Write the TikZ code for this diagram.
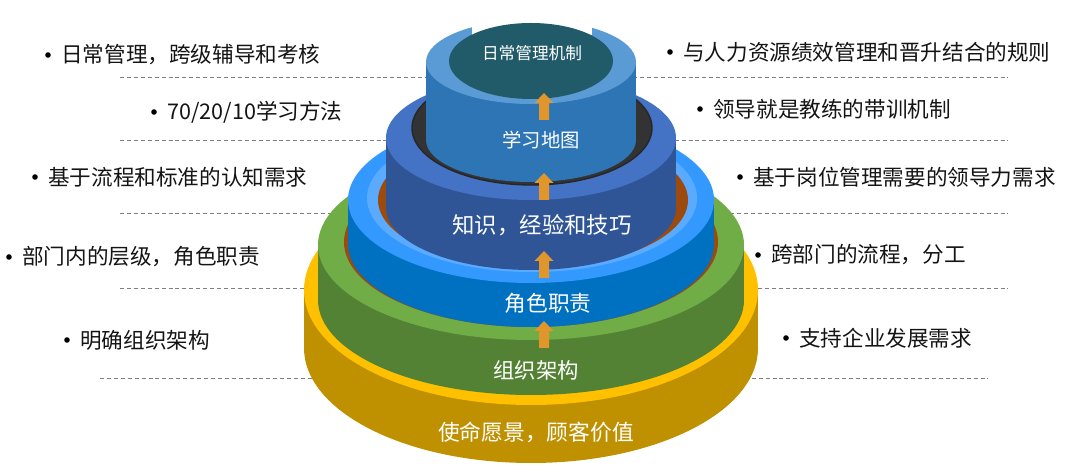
\documentclass[tikz,border=0pt]{standalone}
\usepackage{fontspec}
\setmainfont{Noto Sans CJK SC}
\usepackage{xcolor}
\usepackage{tikz}
\usetikzlibrary{calc}
\definecolor{goldRing}{HTML}{FFC000}
\definecolor{goldSide}{HTML}{BF9000}
\definecolor{greenRing}{HTML}{70AD47}
\definecolor{greenSide}{HTML}{548235}
\definecolor{skyRing}{HTML}{3399FF}
\definecolor{skyBand}{HTML}{5AABFF}
\definecolor{skySide}{HTML}{0070C0}
\definecolor{navyRing}{HTML}{4472C4}
\definecolor{navySide}{HTML}{2F5597}
\definecolor{topRing}{HTML}{5B9BD5}
\definecolor{topSide}{HTML}{2E75B6}
\definecolor{topFace}{HTML}{215A68}
\definecolor{rustHole}{HTML}{9C4A0E}
\definecolor{darkHole}{HTML}{333333}
\definecolor{arrowOrange}{HTML}{E0962B}
\definecolor{sepGray}{HTML}{7F7F7F}
\def\cx{531}
\newcommand{\Layer}[6]{
	\def\Ly{#1}
	\def\La{#2}
	\def\Lb{#3}
	\def\Lh{#4}
	\def\Lring{#5}
	\def\Lside{#6}
	\fill[\Lside] (\cx,\Ly+\Lh) ellipse [x radius=\La, y radius=\Lb];
	\fill[\Lside] (\cx-\La,\Ly) rectangle (\cx+\La,\Ly+\Lh);
	\fill[\Lring] (\cx,\Ly) ellipse [x radius=\La, y radius=\Lb];
}
\newcommand{\UpArrow}[2]{
	\def\ax{#1}
	\def\ay{#2}
	\fill[arrowOrange] (\ax,\ay) -- (\ax+9.5,\ay+10) -- (\ax+5,\ay+10) -- (\ax+5,\ay+27)
		-- (\ax-5,\ay+27) -- (\ax-5,\ay+10) -- (\ax-9.5,\ay+10) -- cycle;
}
\tikzset{
	sidelabel/.style={anchor=west, inner sep=0pt, text=black!92, font=\fontsize{16.2pt}{19pt}\selectfont},
	corelabel/.style={inner sep=0pt, text=white},
	sepline/.style={sepGray, line width=0.7pt, dash pattern=on 3pt off 2.2pt}
}

\begin{document}
\begin{tikzpicture}[x=0.75pt, y=-0.75pt, line cap=butt]
  \useasboundingbox (0,0) rectangle (1080,473);

  % separators behind the stack
  \foreach \yy in {77,140,213,288}
    \draw[sepline] (120,\yy) -- (1008,\yy);
  \draw[sepline] (100,378) -- (988,378);

  \Layer{290}{227}{115}{58}{goldRing}{goldSide}
  \Layer{245}{213}{95}{55}{greenRing}{greenSide}
  \fill[rustHole] (\cx,242) ellipse [x radius=187, y radius=85];
  \Layer{200}{183}{83}{44}{skyRing}{skySide}
  \fill[skyBand] (\cx+1,198) ellipse [x radius=165, y radius=74];
  \fill[rustHole] (\cx+2,200) ellipse [x radius=155, y radius=68];
  \Layer{138}{145}{62}{70}{navyRing}{navySide}
  \filldraw[fill=darkHole, draw=black!85, line width=1pt] (\cx+1,128) ellipse [x radius=120, y radius=57];
  \Layer{62}{105}{42}{78}{topRing}{topSide}
  \fill[white] (472,0) rectangle (592,35);
  \fill[topFace] (\cx,61) ellipse [x radius=82, y radius=38];

  \UpArrow{544}{93}
  \UpArrow{544}{173}
  \UpArrow{544}{251}
  \UpArrow{544}{321}

  \node[corelabel, font=\fontsize{12.5pt}{15pt}\selectfont] (mech) at (532,53) {日常管理机制};
  \node[corelabel, font=\fontsize{14.5pt}{17pt}\selectfont] (map) at (541,140) {学习地图};
  \node[corelabel, font=\fontsize{16.8pt}{20pt}\selectfont] (skill) at (542,225) {知识，经验和技巧};
  \node[corelabel, font=\fontsize{16.3pt}{20pt}\selectfont] (role) at (548,303) {角色职责};
  \node[corelabel, font=\fontsize{16pt}{19pt}\selectfont] (org) at (536,370) {组织架构};
  \node[corelabel, font=\fontsize{16.3pt}{20pt}\selectfont] (vision) at (536,432) {使命愿景，顾客价值};

  \node[sidelabel] (L1) at (61,55) {日常管理，跨级辅导和考核};
  \node[sidelabel] (L2) at (167,112) {70/20/10学习方法};
  \node[sidelabel] (L3) at (48,177) {基于流程和标准的认知需求};
  \node[sidelabel] (L4) at (22,257) {部门内的层级，角色职责};
  \node[sidelabel] (L5) at (80,340) {明确组织架构};
  \node[sidelabel] (R1) at (683,52) {与人力资源绩效管理和晋升结合的规则};
  \node[sidelabel] (R2) at (713,109) {领导就是教练的带训机制};
  \node[sidelabel] (R3) at (753,177) {基于岗位管理需要的领导力需求};
  \node[sidelabel] (R4) at (771,255) {跨部门的流程，分工};
  \node[sidelabel] (R5) at (799,338) {支持企业发展需求};

  \foreach \n in {L1,L2,L3,L4,L5,R1,R2,R3,R4,R5}
    \fill[black] ($(\n.west)+(-13,0)$) circle (2.8);

\end{tikzpicture}
\end{document}
